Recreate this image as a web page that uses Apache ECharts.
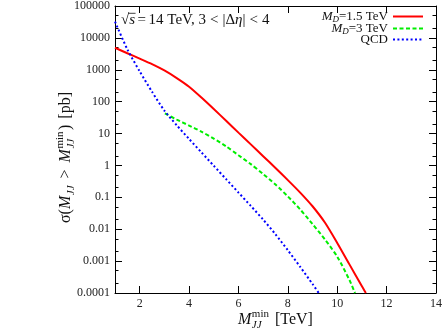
<!DOCTYPE html>
<html>
<head>
<meta charset="utf-8">
<script src="https://cdn.jsdelivr.net/npm/echarts@6/dist/echarts.min.js"></script>
<style>
  html, body { margin: 0; padding: 0; background: #fff; }
  #main { width: 445px; height: 331px; }
</style>
</head>
<body>
<div id="main"></div>
<script>
// cross sections (pb) vs M_JJ^min (TeV)
var redMass = [1, 1.5, 2, 2.5, 3, 3.5, 4, 4.5, 5, 5.5, 6, 6.5, 7, 7.5, 8, 8.5, 9, 9.5, 10, 10.5, 11, 11.16];
var redSigma = [4900, 3300, 2240, 1510, 955, 550, 295, 135, 58.9, 25.1, 10.7, 4.57, 1.95, 0.832, 0.347, 0.141, 0.0525, 0.0162, 0.00372, 0.000776, 0.000162, 0.0001];
var greenMass = [3.02, 3.5, 4, 4.5, 5, 5.5, 6, 6.5, 7, 7.5, 8, 8.5, 9, 9.5, 10, 10.5, 10.72];
var greenSigma = [42.7, 27.5, 17.8, 11.5, 6.92, 3.98, 2.09, 1.10, 0.537, 0.251, 0.107, 0.0417, 0.0145, 0.00479, 0.00138, 0.000251, 0.0001];
var qcdMass = [1, 1.5, 2, 2.5, 3, 3.5, 4, 4.5, 5, 5.5, 6, 6.5, 7, 7.5, 8, 8.5, 9, 9.25];
var qcdSigma = [32400, 4365, 891, 204, 52.5, 18.2, 6.76, 2.57, 0.977, 0.372, 0.141, 0.0537, 0.0200, 0.00692, 0.00219, 0.000661, 0.000191, 0.0001];

var seriesNames = ['MD=1.5 TeV', 'MD=3 TeV', 'QCD'];
var legendLabels = ['{i|M}{s|D}=1.5 TeV', '{i|M}{s|D}=3 TeV', 'QCD'];

var xTicks = [2, 4, 6, 8, 10, 12, 14];
var yTicks = [0.0001, 0.001, 0.01, 0.1, 1, 10, 100, 1000, 10000, 100000];
var yTickLabels = ['0.0001', '0.001', '0.01', '0.1', '1', '10', '100', '1000', '10000', '100000'];
var yMinorTicks = [0.0002, 0.0005, 0.002, 0.005, 0.02, 0.05, 0.2, 0.5, 2, 5, 20, 50, 200, 500, 2000, 5000, 20000, 50000];

var FONT = '"Liberation Serif", "DejaVu Serif", serif';

function pairs(xs, ys) {
  return xs.map(function (x, i) { return [x, ys[i]]; });
}

// text runs for the math-like titles
var measure = document.createElement('canvas').getContext('2d');
function fontStr(size, italic) {
  return (italic ? 'italic ' : '') + size + 'px ' + FONT;
}
function textWidth(t, size, italic) {
  measure.font = fontStr(size, italic);
  return measure.measureText(t).width;
}
function runs(parts) {
  var x = 0, out = [];
  parts.forEach(function (p) {
    var items = p.stack || [p];
    var wmax = 0;
    items.forEach(function (q) {
      var w = textWidth(q.t, q.s, q.it);
      out.push({
        type: 'text', x: x, y: (q.dy || 0) - q.s * 0.33,
        style: { text: q.t, font: fontStr(q.s, q.it), fill: '#111', verticalAlign: 'middle', align: 'left' }
      });
      if (q.over) {
        out.push({
          type: 'line', shape: { x1: x - 1, y1: -q.s * 0.78, x2: x + w + 0.5, y2: -q.s * 0.78 },
          style: { stroke: '#111', lineWidth: 0.8 }
        });
      }
      wmax = Math.max(wmax, w);
    });
    x += wmax + (p.gap || 0);
  });
  return out;
}

var xTitle = runs([
  { t: 'M', s: 16, it: true, gap: 0.5 },
  { stack: [{ t: 'min', s: 11, dy: -7 }, { t: 'JJ', s: 11, it: true, dy: 3.5 }], gap: 6 },
  { t: '[TeV]', s: 16 }
]);
var yTitle = runs([
  { t: '\u03c3(', s: 16 },
  { t: 'M', s: 16, it: true, gap: 0.5 },
  { t: 'JJ', s: 11, it: true, dy: 3.5, gap: 7 },
  { t: '>', s: 16, gap: 7 },
  { t: 'M', s: 16, it: true, gap: 0.5 },
  { stack: [{ t: 'min', s: 11, dy: -7 }, { t: 'JJ', s: 11, it: true, dy: 3.5 }], gap: 1.5 },
  { t: ')', s: 16, gap: 6 },
  { t: '[pb]', s: 16 }
]);
var topNote = runs([
  { t: '\u221a', s: 15 },
  { t: 's', s: 15, it: true, over: true, gap: 2.5 },
  { t: '=', s: 15, gap: 2.5 },
  { t: '14 TeV, 3', s: 15, gap: 4 },
  { t: '<', s: 15, gap: 4 },
  { t: '|\u0394', s: 15 },
  { t: '\u03b7', s: 15, it: true },
  { t: '|', s: 15, gap: 4 },
  { t: '<', s: 15, gap: 4 },
  { t: '4', s: 15 }
]);

var chart = echarts.init(document.getElementById('main'));

var lineAxis = { show: true, onZero: false, lineStyle: { color: '#000', width: 1 } };
function xAxisDef(pos, labels) {
  return {
    type: 'value', position: pos, min: 1, max: 14,
    axisLine: lineAxis,
    axisTick: { show: true, inside: true, length: 7, customValues: xTicks, lineStyle: { color: '#000' } },
    axisLabel: { show: labels, customValues: xTicks, margin: 5, color: '#222', fontFamily: FONT, fontSize: 12 },
    splitLine: { show: false }
  };
}
function yAxisDef(pos, labels, minor) {
  return {
    type: 'log', logBase: 10, position: pos, min: 0.0001, max: 100000,
    axisLine: minor ? { show: false } : lineAxis,
    axisTick: { show: true, inside: true, length: minor ? 3.5 : 7, customValues: minor ? yMinorTicks : yTicks, lineStyle: { color: '#000' } },
    axisLabel: {
      show: labels, customValues: yTicks, margin: 5, color: '#222', fontFamily: FONT, fontSize: 12,
      formatter: function (v) {
        var k = 0;
        for (var i = 0; i < yTicks.length; i++) {
          if (Math.abs(Math.log10(v) - Math.log10(yTicks[i])) < 0.01) k = i;
        }
        return yTickLabels[k];
      }
    },
    splitLine: { show: false },
    minorTick: { show: false }
  };
}

var option = {
  animation: false,
  backgroundColor: '#fff',
  grid: { left: 115, right: 9, top: 5, bottom: 38, containLabel: false },
  xAxis: [xAxisDef('bottom', true), xAxisDef('top', false)],
  yAxis: [yAxisDef('left', true, false), yAxisDef('right', false, false), yAxisDef('left', false, true), yAxisDef('right', false, true)],
  legend: {
    orient: 'vertical', right: 16, top: 4, align: 'right',
    itemWidth: 30, itemHeight: 12, itemGap: -3,
    data: seriesNames,
    itemStyle: { opacity: 0 },
    formatter: function (name) { return legendLabels[seriesNames.indexOf(name)]; },
    textStyle: {
      fontFamily: FONT, fontSize: 13, color: '#111', lineHeight: 12,
      rich: {
        i: { fontFamily: FONT, fontSize: 13, fontStyle: 'italic', color: '#111', lineHeight: 12 },
        s: { fontFamily: FONT, fontSize: 9, fontStyle: 'italic', color: '#111', lineHeight: 6, padding: [6, 0, 0, 0] }
      }
    }
  },
  graphic: [
    { type: 'group', x: 238, y: 325, children: xTitle },
    { type: 'group', x: 71, y: 223, rotation: Math.PI / 2, children: yTitle },
    { type: 'group', x: 121, y: 25, children: topNote }
  ],
  series: [
    {
      name: seriesNames[0], type: 'line', data: pairs(redMass, redSigma), symbol: 'none', smooth: 0.25,
      lineStyle: { color: '#ff0000', width: 2 }, itemStyle: { color: '#ff0000' }
    },
    {
      name: seriesNames[1], type: 'line', data: pairs(greenMass, greenSigma), symbol: 'none', smooth: 0.25,
      lineStyle: { color: '#00ee00', width: 2, type: [4, 2.5] }, itemStyle: { color: '#00ee00' }
    },
    {
      name: seriesNames[2], type: 'line', data: pairs(qcdMass, qcdSigma), symbol: 'none', smooth: 0.25,
      lineStyle: { color: '#0000ff', width: 2, type: [2, 2.4] }, itemStyle: { color: '#0000ff' }
    }
  ]
};
chart.setOption(option);
</script>
</body>
</html>
